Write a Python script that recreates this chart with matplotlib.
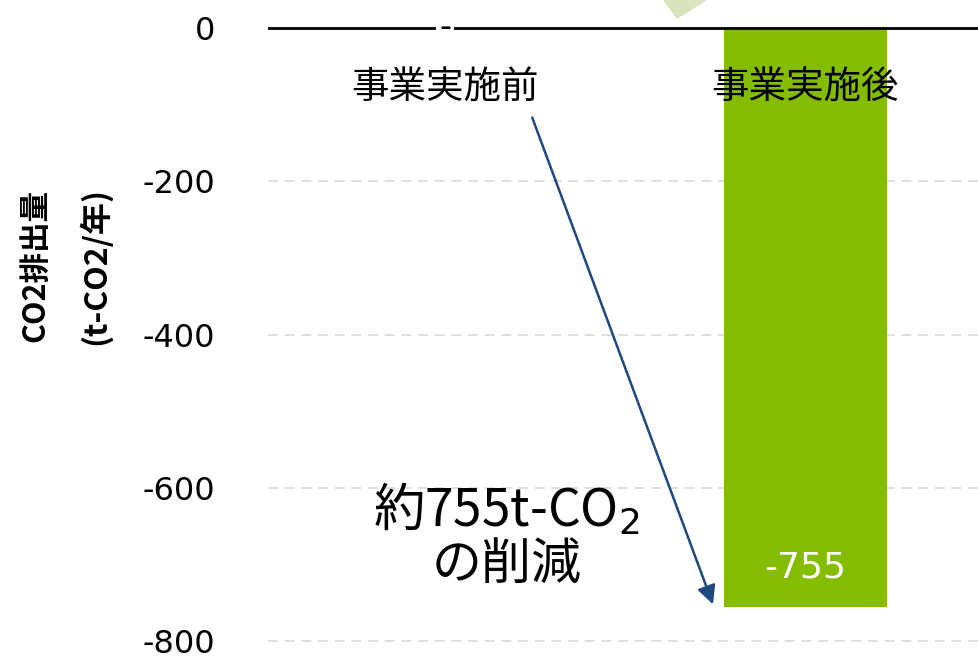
import matplotlib
matplotlib.use("Agg")
import matplotlib.pyplot as plt
from matplotlib.patches import Polygon

plt.rcParams['font.family'] = ['Noto Sans CJK JP', 'DejaVu Sans']

categories = ['事業実施前', '事業実施後']
values = [0, -755]
value_labels = ['-', '-755']
yticks = [0, -200, -400, -600, -800]
ytick_labels = ['0', '-200', '-400', '-600', '-800']

fig = plt.figure(figsize=(9.79, 6.58), dpi=100)
ax = fig.add_axes([268 / 979, 0, (979 - 268) / 979, 1])
ax.set_xlim(-0.492, 1.483)
ax.set_ylim(-822, 36.5)

x = list(range(len(categories)))
ax.bar(x, values, width=0.453, color='#84bc00', zorder=2)

for sp in ax.spines.values():
    sp.set_visible(False)
ax.set_xticks([])
ax.set_yticks(yticks)
ax.set_yticklabels(ytick_labels, fontsize=23, family='DejaVu Sans')
ax.tick_params(axis='y', length=0, pad=38)
for t in yticks[1:]:
    ax.axhline(t, color='#d9d9d9', lw=1.2, ls=(0, (6, 4)), zorder=1)
ax.axhline(0, color='black', lw=2, zorder=3)

# category labels inside plot
for xi, c in zip(x, categories):
    ax.text(xi, -78, c, ha='center', va='center', fontsize=27, color='black', zorder=5)

# value labels
ax.text(x[0], values[0], value_labels[0], ha='center', va='center', fontsize=24,
        family='DejaVu Sans', zorder=4,
        bbox=dict(boxstyle='square,pad=0.08', fc='white', ec='none'))
ax.text(x[1], -704, value_labels[1], ha='center', va='center', fontsize=26,
        color='white', family='DejaVu Sans', zorder=4)

# annotation arrow
ax.annotate('', xy=(0.744, -752), xytext=(0.242, -117),
            arrowprops=dict(arrowstyle='-|>', color='#1f497d', lw=1.8,
                            mutation_scale=28, shrinkA=0, shrinkB=0), zorder=4)
ax.text(0.17, -630, '約755t-CO$_2$', ha='center', va='center', fontsize=37, zorder=5)
ax.text(0.17, -700, 'の削減', ha='center', va='center', fontsize=36, zorder=5)

# y label
fig.text(35 / 979, 1 - 266 / 658, 'CO2排出量', rotation=90, ha='center', va='center',
         fontsize=22, fontweight='bold')
fig.text(95 / 979, 1 - 266 / 658, '(t-CO2/年)', rotation=90, ha='center', va='center',
         fontsize=23, fontweight='bold')

# clipped decorative shape at top
tri = Polygon([(663 / 979, 1.0), (677 / 979, 1 - 19 / 658), (707 / 979, 1.0)],
              closed=True, transform=fig.transFigure, fc='#d7e4bd', ec='none')
fig.patches.append(tri)

fig.savefig('out.png', dpi=100)
